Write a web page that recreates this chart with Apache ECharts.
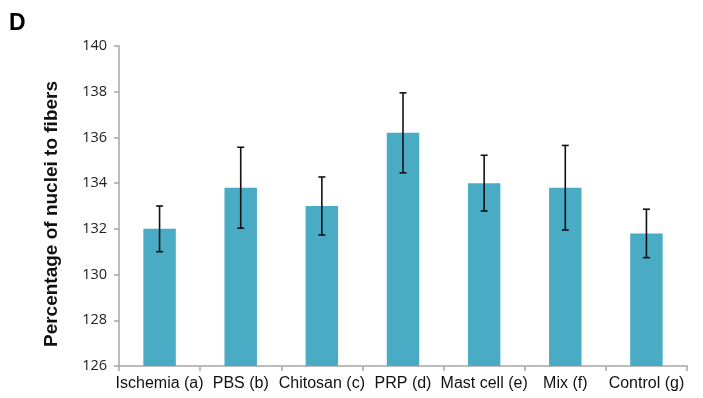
<!DOCTYPE html>
<html>
<head>
<meta charset="utf-8">
<script src="https://cdn.jsdelivr.net/npm/echarts@6/dist/echarts.min.js"></script>
<style>html,body{margin:0;padding:0;background:#fff;}#c{width:703px;height:398px;}</style>
</head>
<body>
<div id="c"></div>
<script>
var categories = ['Ischemia (a)', 'PBS (b)', 'Chitosan (c)', 'PRP (d)', 'Mast cell (e)', 'Mix (f)', 'Control (g)'];
var means = [132.0, 133.8, 133.0, 136.2, 134.0, 133.8, 131.8];
var errors = [1.0, 1.77, 1.27, 1.75, 1.22, 1.85, 1.06];
var yMin = 126, yMax = 140, yStep = 2;

var chart = echarts.init(document.getElementById('c'), null, {renderer: 'canvas'});
var errData = categories.map(function (c, i) { return [i, means[i] - errors[i], means[i] + errors[i]]; });

chart.setOption({
  animation: false,
  backgroundColor: '#fff',
  graphic: [{
    type: 'text', left: 9, top: 12,
    style: {text: 'D', font: 'bold 23px "Liberation Sans", Arial, sans-serif', fill: '#000'}
  }],
  grid: {left: 119, right: 16, top: 46, bottom: 32, containLabel: false},
  xAxis: {
    type: 'category',
    data: categories,
    axisLine: {lineStyle: {color: '#a6a6a6', width: 1.5}},
    axisTick: {show: true, length: 5, lineStyle: {color: '#a6a6a6', width: 1.5}},
    axisLabel: {margin: 10, color: '#111', fontSize: 16, fontFamily: '"Liberation Sans", Arial, sans-serif', interval: 0}
  },
  yAxis: {
    type: 'value', min: yMin, max: yMax, interval: yStep,
    name: 'Percentage of nuclei to fibers',
    nameLocation: 'middle', nameGap: 58,
    nameTextStyle: {fontSize: 19, fontWeight: 'bold', color: '#111', fontFamily: '"Liberation Sans", Arial, sans-serif', padding: [0, 16, 0, 0]},
    axisLine: {show: true, lineStyle: {color: '#a6a6a6', width: 1.5}},
    axisTick: {show: true, length: 5, lineStyle: {color: '#a6a6a6', width: 1.5}},
    axisLabel: {margin: 12, color: '#222', fontSize: 14.5, fontFamily: '"Open Sans", "Liberation Sans", sans-serif'},
    splitLine: {show: false}
  },
  series: [{
    type: 'bar', data: means, barWidth: '40%',
    itemStyle: {color: '#4aabc5'}
  }, {
    type: 'custom', data: errData, z: 10,
    renderItem: function (params, api) {
      var x = api.value(0);
      var lo = api.coord([x, api.value(1)]);
      var hi = api.coord([x, api.value(2)]);
      var w = 3.5;
      var st = {stroke: '#111', lineWidth: 1.6};
      return {type: 'group', children: [
        {type: 'line', shape: {x1: lo[0], y1: lo[1], x2: hi[0], y2: hi[1]}, style: st},
        {type: 'line', shape: {x1: lo[0] - w, y1: lo[1], x2: lo[0] + w, y2: lo[1]}, style: st},
        {type: 'line', shape: {x1: hi[0] - w, y1: hi[1], x2: hi[0] + w, y2: hi[1]}, style: st}
      ]};
    }
  }]
});
</script>
</body>
</html>
